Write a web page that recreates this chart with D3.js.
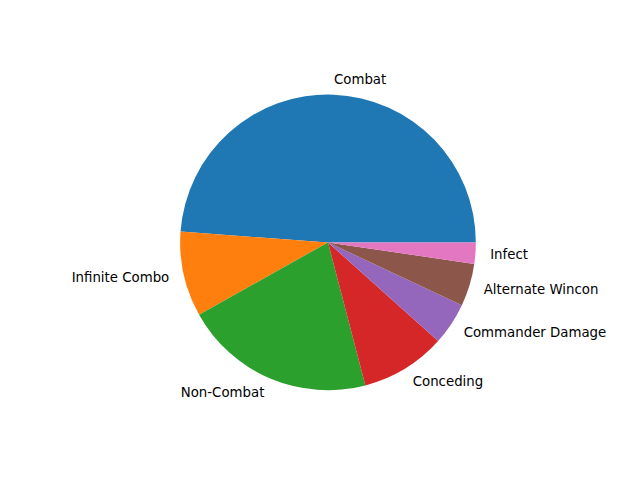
<!DOCTYPE html>
<html>
<head>
<meta charset="utf-8">
<script src="https://cdn.jsdelivr.net/npm/d3@7"></script>
<style>
html,body{margin:0;padding:0;background:#fff;}
svg{display:block;}
</style>
</head>
<body>
<svg id="chart" width="640" height="480"></svg>
<script>
const categories = ["Combat", "Infinite Combo", "Non-Combat", "Conceding", "Commander Damage", "Alternate Wincon", "Infect"];
const values = [21, 4, 9, 4, 2, 2, 1];
const colors = ["#1f77b4", "#ff7f0e", "#2ca02c", "#d62728", "#9467bd", "#8c564b", "#e377c2"];

const svg = d3.select("#chart");
const cx = 328, cy = 242.4, r = 147.84;
const g = svg.append("g").attr("transform", `translate(${cx},${cy})`);

const data = categories.map((c, i) => ({name: c, value: values[i], color: colors[i]}));
const pie = d3.pie().sort(null).value(d => d.value)
  .startAngle(Math.PI / 2).endAngle(Math.PI / 2 - 2 * Math.PI);
const arcs = pie(data);
const arc = d3.arc().innerRadius(0).outerRadius(r);

g.selectAll("path").data(arcs).enter().append("path")
  .attr("d", arc)
  .attr("fill", d => d.data.color);

const lr = r * 1.1;
g.selectAll("text").data(arcs).enter().append("text")
  .attr("x", d => Math.sin((d.startAngle + d.endAngle) / 2) * lr)
  .attr("y", d => -Math.cos((d.startAngle + d.endAngle) / 2) * lr)
  .attr("text-anchor", d => Math.sin((d.startAngle + d.endAngle) / 2) > 0 ? "start" : "end")
  .attr("dominant-baseline", "central")
  .attr("font-family", "DejaVu Sans, sans-serif")
  .attr("font-size", "13.33px")
  .attr("fill", "#000")
  .text(d => d.data.name);
</script>
</body>
</html>
